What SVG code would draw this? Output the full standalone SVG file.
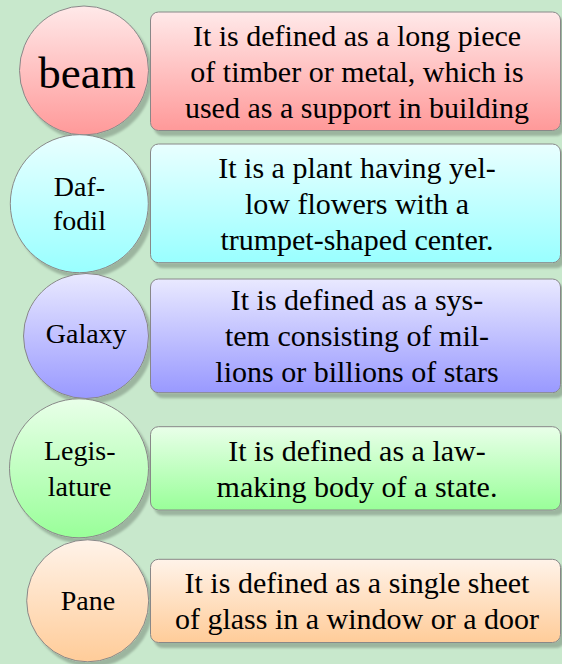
<svg xmlns="http://www.w3.org/2000/svg" width="562" height="664" viewBox="0 0 562 664" font-family="'Times New Roman', 'Liberation Serif', Tinos, serif">
<defs>
<filter id="sh" x="-10%" y="-10%" width="130%" height="130%">
<feDropShadow dx="4" dy="5" stdDeviation="1.2" flood-color="#000" flood-opacity="0.22"/>
</filter>
<linearGradient id="gRed" x1="0" y1="0" x2="0" y2="1"><stop offset="0" stop-color="#ffe9e9"/><stop offset="1" stop-color="#ff9999"/></linearGradient>
<linearGradient id="gCyan" x1="0" y1="0" x2="0" y2="1"><stop offset="0" stop-color="#e9ffff"/><stop offset="1" stop-color="#99ffff"/></linearGradient>
<linearGradient id="gBlue" x1="0" y1="0" x2="0" y2="1"><stop offset="0" stop-color="#e9e9ff"/><stop offset="1" stop-color="#9999ff"/></linearGradient>
<linearGradient id="gGreen" x1="0" y1="0" x2="0" y2="1"><stop offset="0" stop-color="#e9ffe9"/><stop offset="1" stop-color="#99ff99"/></linearGradient>
<linearGradient id="gOrange" x1="0" y1="0" x2="0" y2="1"><stop offset="0" stop-color="#fff3e9"/><stop offset="1" stop-color="#ffcc99"/></linearGradient>
</defs>
<style>
.shape{stroke:#888888;stroke-width:1;filter:url(#sh);}
</style>
<rect width="562" height="664" fill="#c8e8cc"/>
<g id="connectors"></g>

<g id="beam">
<circle class="shape" cx="84" cy="70.5" r="64.5" fill="url(#gRed)"/>
<text x="87" y="88" font-family="'Times New Roman', 'Liberation Serif', Tinos, serif" font-size="45" text-anchor="middle" fill="#000">beam</text>
</g>
<g id="beam-def">
<rect class="shape" x="150.5" y="12" width="410" height="118.5" rx="8" fill="url(#gRed)"/>
<text x="357" y="45.75" font-family="'Times New Roman', 'Liberation Serif', Tinos, serif" font-size="30" text-anchor="middle" fill="#000">It is defined as a long piece</text>
<text x="357" y="81.75" font-family="'Times New Roman', 'Liberation Serif', Tinos, serif" font-size="30" text-anchor="middle" fill="#000">of timber or metal, which is</text>
<text x="357" y="117.75" font-family="'Times New Roman', 'Liberation Serif', Tinos, serif" font-size="30" text-anchor="middle" fill="#000">used as a support in building</text>
</g>

<g id="daffodil">
<circle class="shape" cx="79.3" cy="203.7" r="69" fill="url(#gCyan)"/>
<text x="79.5" y="195.7" font-family="'Times New Roman', 'Liberation Serif', Tinos, serif" font-size="28" text-anchor="middle" fill="#000">Daf-</text>
<text x="79.5" y="230" font-family="'Times New Roman', 'Liberation Serif', Tinos, serif" font-size="28" text-anchor="middle" fill="#000">fodil</text>
</g>
<g id="daffodil-def">
<rect class="shape" x="150.5" y="144" width="410" height="118.7" rx="8" fill="url(#gCyan)"/>
<text x="357" y="177.85" font-family="'Times New Roman', 'Liberation Serif', Tinos, serif" font-size="30" text-anchor="middle" fill="#000">It is a plant having yel-</text>
<text x="357" y="213.85" font-family="'Times New Roman', 'Liberation Serif', Tinos, serif" font-size="30" text-anchor="middle" fill="#000">low flowers with a</text>
<text x="357" y="249.85" font-family="'Times New Roman', 'Liberation Serif', Tinos, serif" font-size="30" text-anchor="middle" fill="#000">trumpet-shaped center.</text>
</g>

<g id="galaxy">
<circle class="shape" cx="86" cy="336" r="62.5" fill="url(#gBlue)"/>
<text x="86.2" y="343.3" font-family="'Times New Roman', 'Liberation Serif', Tinos, serif" font-size="28" text-anchor="middle" fill="#000">Galaxy</text>
</g>
<g id="galaxy-def">
<rect class="shape" x="150.5" y="279" width="410" height="113.7" rx="8" fill="url(#gBlue)"/>
<text x="357" y="310.35" font-family="'Times New Roman', 'Liberation Serif', Tinos, serif" font-size="30" text-anchor="middle" fill="#000">It is defined as a sys-</text>
<text x="357" y="346.35" font-family="'Times New Roman', 'Liberation Serif', Tinos, serif" font-size="30" text-anchor="middle" fill="#000">tem consisting of mil-</text>
<text x="357" y="382.35" font-family="'Times New Roman', 'Liberation Serif', Tinos, serif" font-size="30" text-anchor="middle" fill="#000">lions or billions of stars</text>
</g>

<g id="legislature">
<circle class="shape" cx="79" cy="468.3" r="69.5" fill="url(#gGreen)"/>
<text x="79.7" y="460" font-family="'Times New Roman', 'Liberation Serif', Tinos, serif" font-size="28" text-anchor="middle" fill="#000">Legis-</text>
<text x="79.7" y="496" font-family="'Times New Roman', 'Liberation Serif', Tinos, serif" font-size="28" text-anchor="middle" fill="#000">lature</text>
</g>
<g id="legislature-def">
<rect class="shape" x="150.5" y="426.7" width="410" height="83.3" rx="8" fill="url(#gGreen)"/>
<text x="357" y="460.85" font-family="'Times New Roman', 'Liberation Serif', Tinos, serif" font-size="30" text-anchor="middle" fill="#000">It is defined as a law-</text>
<text x="357" y="496.85" font-family="'Times New Roman', 'Liberation Serif', Tinos, serif" font-size="30" text-anchor="middle" fill="#000">making body of a state.</text>
</g>

<g id="pane">
<circle class="shape" cx="87.7" cy="600.8" r="61" fill="url(#gOrange)"/>
<text x="88" y="610" font-family="'Times New Roman', 'Liberation Serif', Tinos, serif" font-size="28" text-anchor="middle" fill="#000">Pane</text>
</g>
<g id="pane-def">
<rect class="shape" x="150.5" y="559.3" width="410" height="83.2" rx="8" fill="url(#gOrange)"/>
<text x="357" y="593.4" font-family="'Times New Roman', 'Liberation Serif', Tinos, serif" font-size="30" text-anchor="middle" fill="#000">It is defined as a single sheet</text>
<text x="357" y="629.4" font-family="'Times New Roman', 'Liberation Serif', Tinos, serif" font-size="30" text-anchor="middle" fill="#000">of glass in a window or a door</text>
</g>
</svg>
